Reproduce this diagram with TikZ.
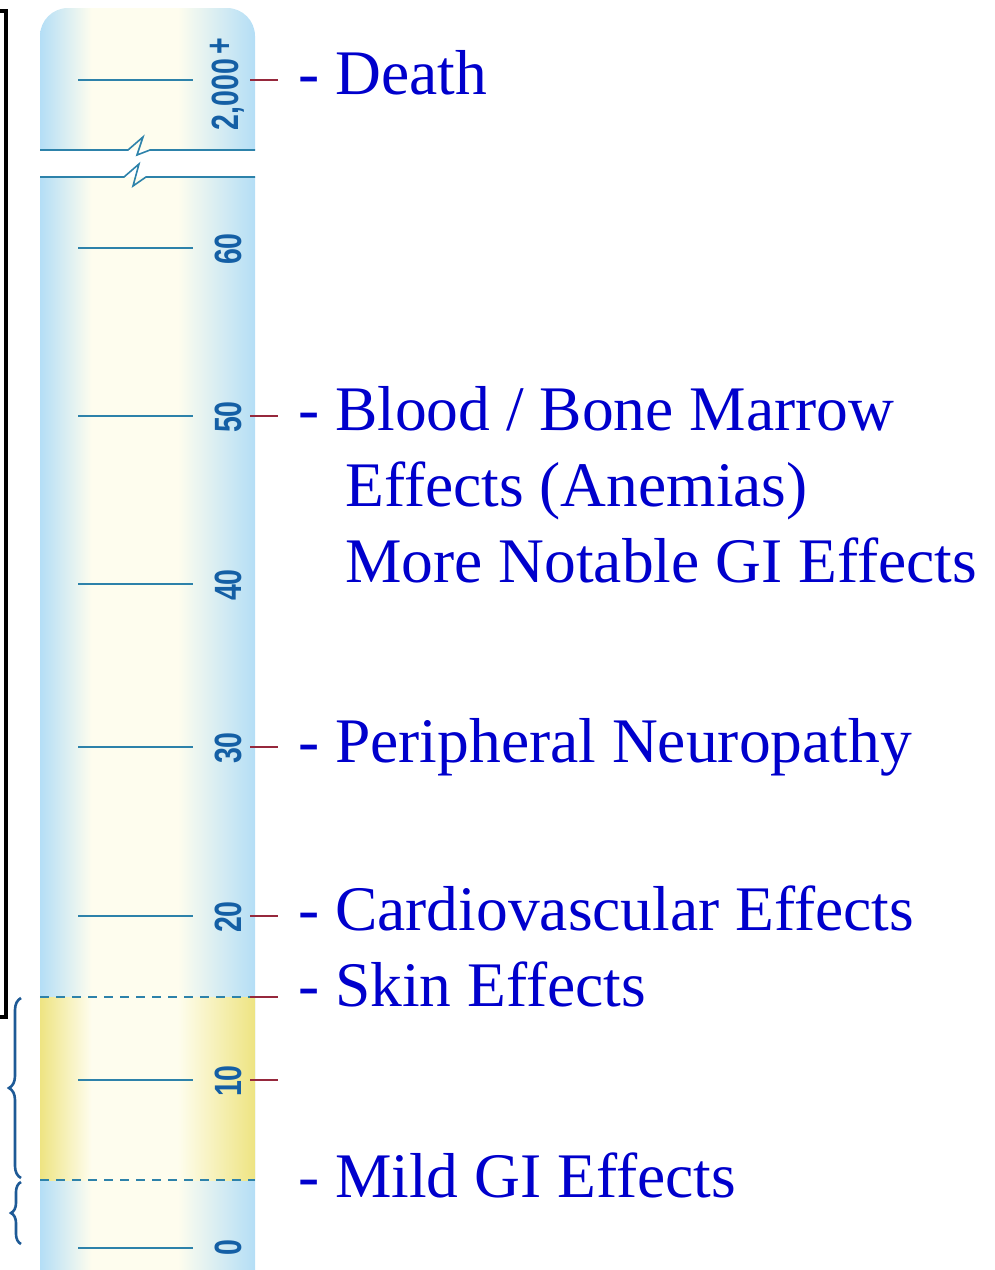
\documentclass[tikz,border=0pt]{standalone}
\usepackage{fontspec}
\setmainfont{Liberation Serif}
\setsansfont{Liberation Sans}
\usetikzlibrary{decorations.pathreplacing}
\definecolor{txtblue}{RGB}{0,0,204}
\definecolor{colblue}{RGB}{180,222,246}
\definecolor{colpale}{RGB}{254,253,238}
\definecolor{colyel}{RGB}{238,228,130}
\definecolor{tickc}{RGB}{45,130,170}
\definecolor{numc}{RGB}{20,95,165}
\definecolor{redc}{RGB}{150,40,60}
\definecolor{bracec}{RGB}{30,90,150}
\pgfdeclarehorizontalshading{colshade}{100bp}{color(0bp)=(colblue); color(25bp)=(colblue); color(37bp)=(colpale); color(57bp)=(colpale); color(75bp)=(colblue); color(100bp)=(colblue)}
\pgfdeclarehorizontalshading{yelshade}{100bp}{color(0bp)=(colyel); color(25bp)=(colyel); color(37bp)=(colpale); color(57bp)=(colpale); color(75bp)=(colyel); color(100bp)=(colyel)}
\tikzset{
  x=1pt, y=-1pt,
  tickline/.style={draw=tickc, line width=1.8pt},
  redline/.style={draw=redc, line width=1.4pt},
  numlabel/.style={text=numc, rotate=90, inner sep=0pt, font=\sffamily\bfseries\fontsize{38}{38}\selectfont},
  effect/.style={text=txtblue, anchor=base west, inner sep=0pt, font=\fontsize{63.5}{63.5}\selectfont},
  dashln/.style={draw=tickc, line width=1.8pt, dash pattern=on 9pt off 7pt},
  bracestyle/.style={draw=bracec, line width=2.6pt, decorate, decoration={brace, amplitude=12pt}},
}
\begin{document}
\begin{tikzpicture}
\useasboundingbox (0,0) rectangle (995,1270);
% column upper part (rounded top)
\shade[shading=colshade]
  (40,150) -- (40,36) arc[start angle=180, end angle=270, radius=28] -- (227,8)
  arc[start angle=270, end angle=360, radius=28] -- (255,150) -- cycle;
% column lower part
\shade[shading=colshade] (40,177) rectangle (255,1270);
% yellow band
\shade[shading=yelshade] (40,997) rectangle (255,1180);
% break lines with zigzag
\draw[tickc, line width=1.6pt] (40,150) -- (128,150) -- (143,137) -- (137,155) -- (150,150) -- (255,150);
\draw[tickc, line width=1.6pt] (40,177) -- (124,177) -- (139,164) -- (133,186) -- (146,177) -- (255,177);
% ticks
\foreach \yy in {80, 248, 416, 584, 747, 916, 1080, 1248}{
  \draw[tickline] (78,\yy) -- (193,\yy);
}
% numbers
\node[numlabel] (n2000) at (227,84) {\scalebox{0.75}[1]{2,000\,\raisebox{0.3ex}{+}}};
\node[numlabel] (n60) at (228,249) {\scalebox{0.75}[1]{60}};
\node[numlabel] (n50) at (228,417) {\scalebox{0.75}[1]{50}};
\node[numlabel] (n40) at (228,585) {\scalebox{0.75}[1]{40}};
\node[numlabel] (n30) at (228,748) {\scalebox{0.75}[1]{30}};
\node[numlabel] (n20) at (228,917) {\scalebox{0.75}[1]{20}};
\node[numlabel] (n10) at (228,1081) {\scalebox{0.75}[1]{10}};
\node[numlabel] (n0) at (228,1248) {\scalebox{0.75}[1]{0}};
% dashed band edges
\draw[dashln] (40,997) -- (255,997);
\draw[dashln] (40,1180) -- (255,1180);
% red connector marks
\foreach \yy in {80,416,747,916,997,1080}{
  \draw[redline] (250,\yy) -- (278,\yy);
}
% effect texts
\node[effect] (death) at (298,94) {- Death};
\node[effect] (blood) at (298,430) {- Blood / Bone Marrow};
\node[effect] (anem) at (345,506) {Effects (Anemias)};
\node[effect] (gi) at (345,582) {More Notable GI Effects};
\node[effect] (neuro) at (298,762) {- Peripheral Neuropathy};
\node[effect] (cardio) at (298,930) {- Cardiovascular Effects};
\node[effect] (skin) at (298,1006) {- Skin Effects};
\node[effect] (mild) at (298,1197) {- Mild GI Effects};
% left black bracket
\draw[black, line width=3.5pt] (0,11) -- (6,11) -- (6,1017) -- (0,1017);
% braces
\draw[bracestyle] (21,1178) -- (21,998);
\draw[bracestyle, decoration={brace, amplitude=10pt}] (21,1244) -- (21,1182);
\end{tikzpicture}
\end{document}
